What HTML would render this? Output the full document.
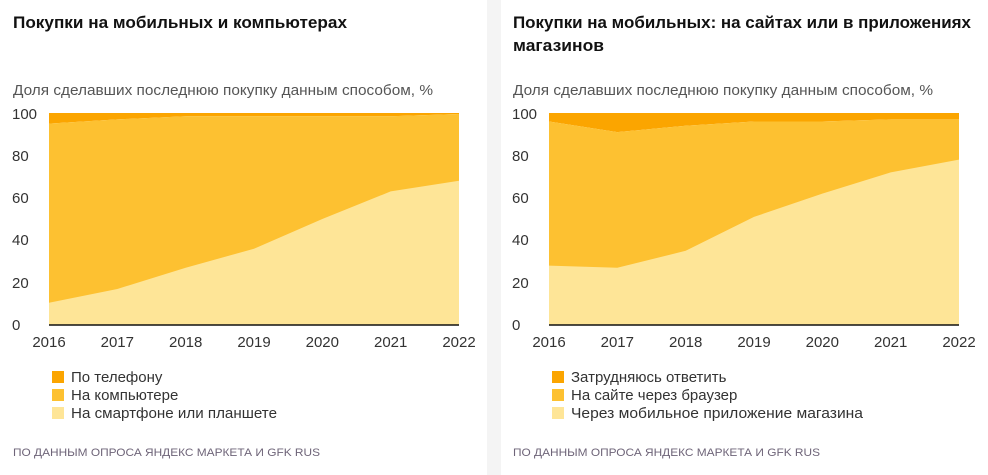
<!DOCTYPE html>
<html><head><meta charset="utf-8"><style>
body{margin:0;width:988px;height:475px;background:#f4f4f4;font-family:"Liberation Sans",sans-serif;overflow:hidden;position:relative}
.p{position:absolute;top:0;height:475px;background:#fff}
svg{position:absolute;left:0;top:0}
</style></head><body>
<div class="p" style="left:0;width:487px"></div>
<div class="p" style="left:501px;width:487px"></div>
<svg width="988" height="475" font-family="Liberation Sans, sans-serif">
<g font-size="16.5" font-weight="bold" fill="#111">
<text x="13" y="28" textLength="334" lengthAdjust="spacingAndGlyphs">Покупки на мобильных и компьютерах</text>
<text x="513" y="28" textLength="458" lengthAdjust="spacingAndGlyphs">Покупки на мобильных: на сайтах или в приложениях</text>
<text x="513" y="51" textLength="91" lengthAdjust="spacingAndGlyphs">магазинов</text>
</g>
<g font-size="15" fill="#555">
<text x="13" y="95" textLength="420" lengthAdjust="spacingAndGlyphs">Доля сделавших последнюю покупку данным способом, %</text>
<text x="513" y="95" textLength="420" lengthAdjust="spacingAndGlyphs">Доля сделавших последнюю покупку данным способом, %</text>
</g>
<polygon fill="#FBA500" points="49,113 459,113 459,114 390.7,116.2 322.3,116.2 254,116.2 185.7,116.2 117.3,119.4 49,123.6"/>
<polygon fill="#FDC131" points="49,123.6 117.3,119.4 185.7,116.2 254,116.2 322.3,116.2 390.7,116.2 459,114 459,325 49,325"/>
<polygon fill="#FEE597" points="49,302.7 117.3,289 185.7,267.8 254,248.7 322.3,219 390.7,191.4 459,180.8 459,325 49,325"/>
<line x1="49" y1="325" x2="459" y2="325" stroke="#111" stroke-width="1.5"/>
<polygon fill="#FBA500" points="549,113 959,113 959,119.4 890.7,119.4 822.3,121.5 754,121.5 685.7,125.7 617.3,132.1 549,121.5"/>
<polygon fill="#FDC131" points="549,121.5 617.3,132.1 685.7,125.7 754,121.5 822.3,121.5 890.7,119.4 959,119.4 959,325 549,325"/>
<polygon fill="#FEE597" points="549,265.6 617.3,267.8 685.7,250.8 754,216.9 822.3,193.6 890.7,172.4 959,159.6 959,325 549,325"/>
<line x1="549" y1="325" x2="959" y2="325" stroke="#111" stroke-width="1.5"/>
<g font-size="15" fill="#333">
<text x="12" y="330">0</text><text x="12" y="288">20</text><text x="12" y="245">40</text><text x="12" y="203">60</text><text x="12" y="161">80</text><text x="12" y="119">100</text>
<text x="512" y="330">0</text><text x="512" y="288">20</text><text x="512" y="245">40</text><text x="512" y="203">60</text><text x="512" y="161">80</text><text x="512" y="119">100</text>
</g>
<g font-size="15" fill="#333" text-anchor="middle">
<text x="49" y="347">2016</text><text x="117.3" y="347">2017</text><text x="185.7" y="347">2018</text><text x="254" y="347">2019</text><text x="322.3" y="347">2020</text><text x="390.7" y="347">2021</text><text x="459" y="347">2022</text>
<text x="549" y="347">2016</text><text x="617.3" y="347">2017</text><text x="685.7" y="347">2018</text><text x="754" y="347">2019</text><text x="822.3" y="347">2020</text><text x="890.7" y="347">2021</text><text x="959" y="347">2022</text>
</g>
<rect x="52" y="371" width="12" height="12" fill="#FBA500"/><rect x="52" y="389" width="12" height="12" fill="#FDC131"/><rect x="52" y="407" width="12" height="12" fill="#FEE597"/>
<rect x="552" y="371" width="12" height="12" fill="#FBA500"/><rect x="552" y="389" width="12" height="12" fill="#FDC131"/><rect x="552" y="407" width="12" height="12" fill="#FEE597"/>
<g font-size="15" fill="#333">
<text x="71" y="382">По телефону</text><text x="71" y="400">На компьютере</text><text x="71" y="418" textLength="206" lengthAdjust="spacingAndGlyphs">На смартфоне или планшете</text>
<text x="571" y="382">Затрудняюсь ответить</text><text x="571" y="400">На сайте через браузер</text><text x="571" y="418" textLength="292" lengthAdjust="spacingAndGlyphs">Через мобильное приложение магазина</text>
</g>
<g font-size="11" fill="#6e6478">
<text x="13" y="456" textLength="307" lengthAdjust="spacingAndGlyphs">ПО ДАННЫМ ОПРОСА ЯНДЕКС МАРКЕТА И GFK RUS</text>
<text x="513" y="456" textLength="307" lengthAdjust="spacingAndGlyphs">ПО ДАННЫМ ОПРОСА ЯНДЕКС МАРКЕТА И GFK RUS</text>
</g>
</svg>
</body></html>
